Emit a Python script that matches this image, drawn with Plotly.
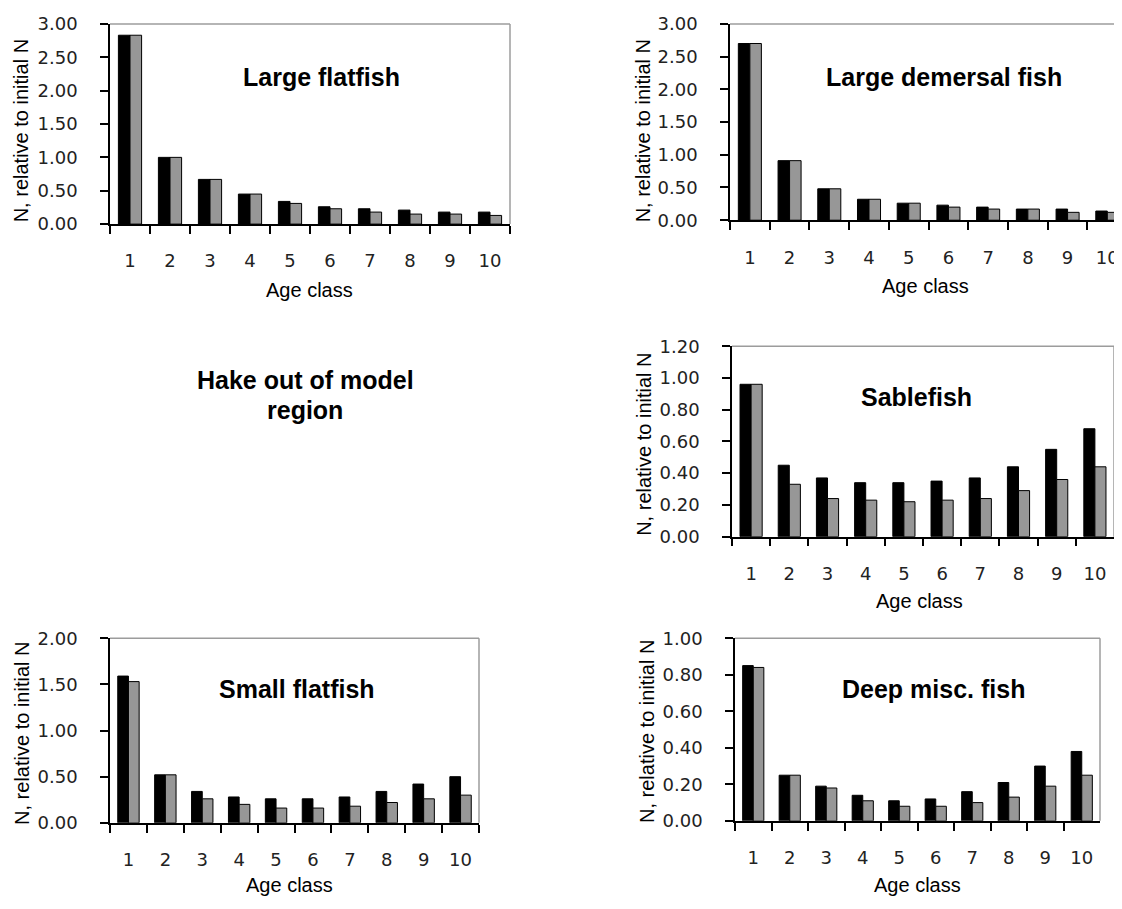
import plotly.graph_objects as go

# page is offset by the default 8px body margin, so the figure is 8px smaller
OFF = 8
PAGE_W, PAGE_H = 1122, 909
W, H = PAGE_W - OFF, PAGE_H - OFF

age_classes = ["1", "2", "3", "4", "5", "6", "7", "8", "9", "10"]

# Large flatfish
large_flatfish_black = [2.83, 1.00, 0.67, 0.45, 0.34, 0.26, 0.23, 0.21, 0.18, 0.18]
large_flatfish_grey = [2.83, 1.00, 0.67, 0.45, 0.31, 0.23, 0.18, 0.15, 0.15, 0.13]
# Large demersal fish
large_demersal_black = [2.70, 0.91, 0.48, 0.32, 0.26, 0.23, 0.20, 0.17, 0.17, 0.14]
large_demersal_grey = [2.70, 0.91, 0.48, 0.32, 0.26, 0.20, 0.17, 0.17, 0.12, 0.12]
# Sablefish
sablefish_black = [0.96, 0.45, 0.37, 0.34, 0.34, 0.35, 0.37, 0.44, 0.55, 0.68]
sablefish_grey = [0.96, 0.33, 0.24, 0.23, 0.22, 0.23, 0.24, 0.29, 0.36, 0.44]
# Small flatfish
small_flatfish_black = [1.59, 0.52, 0.34, 0.28, 0.26, 0.26, 0.28, 0.34, 0.42, 0.50]
small_flatfish_grey = [1.53, 0.52, 0.26, 0.20, 0.16, 0.16, 0.18, 0.22, 0.26, 0.30]
# Deep misc. fish
deep_misc_black = [0.85, 0.25, 0.19, 0.14, 0.11, 0.12, 0.16, 0.21, 0.30, 0.38]
deep_misc_grey = [0.84, 0.25, 0.18, 0.11, 0.08, 0.08, 0.10, 0.13, 0.19, 0.25]

panel_titles = ["Large flatfish", "Large demersal fish", "Sablefish",
                "Small flatfish", "Deep misc. fish"]
y_ranges = [3.0, 3.0, 1.2, 2.0, 1.0]
y_dticks = [0.5, 0.5, 0.2, 0.5, 0.2]
x_title = "Age class"
y_title = "N, relative to initial N"
hake_lines = ["Hake out of model", "region"]

series = [
    (large_flatfish_black, large_flatfish_grey),
    (large_demersal_black, large_demersal_grey),
    (sablefish_black, sablefish_grey),
    (small_flatfish_black, small_flatfish_grey),
    (deep_misc_black, deep_misc_grey),
]

# page-pixel boxes (left, right, top, bottom) of each plot area
boxes = [
    (110, 510, 13, 218),
    (730, 1122, 13, 214),
    (732, 1114, 343, 538),
    (110, 479, 642, 831),
    (735, 1100, 642, 829),
]
x_ranges = [[-0.5, 9.5], [-0.5, 9.37], [-0.5, 9.5], [-0.5, 9.5], [-0.5, 9.5]]
title_pos = [(321, 67), (944, 67), (916, 395), (297, 694), (933, 694)]
ytitle_pos = [(21, 123), (643, 122), (644, 444), (22, 740), (647, 738)]
xtitle_pos = [(309, 285), (925, 281), (919, 604), (290, 895), (917, 895)]
hake_pos = [(305, 378), (305, 408)]

BLACK = "#000000"
GREY = "#979797"
FRAME = "#9c9c9c"
TICK_FONT = dict(family="DejaVu Sans", size=18, color="#222222")
TITLE_FONT = dict(family="Liberation Sans, Arial", size=25, color="#000000")
AX_FONT = dict(family="Liberation Sans, Arial", size=20, color="#000000")

fig = go.Figure()
annotations = []
shapes = []


def px(x):
    return (x - OFF) / W


def py(y):
    return 1 - (y - OFF) / H


for i, ((blk, gry), box) in enumerate(zip(series, boxes)):
    n = "" if i == 0 else str(i + 1)
    xa, ya = "x" + n, "y" + n
    fig.add_trace(go.Bar(x=age_classes, y=blk, xaxis=xa, yaxis=ya,
                         marker=dict(color=BLACK, line=dict(color=BLACK, width=1)),
                         showlegend=False, hoverinfo="x+y"))
    fig.add_trace(go.Bar(x=age_classes, y=gry, xaxis=xa, yaxis=ya,
                         marker=dict(color=GREY, line=dict(color=BLACK, width=1)),
                         showlegend=False, hoverinfo="x+y"))
    l, r, t, b = box
    fig.layout["xaxis" + n] = dict(
        domain=[px(l), min(px(r), 1.0)], anchor=ya, type="category",
        range=x_ranges[i], showline=True, linecolor=BLACK, linewidth=1.5,
        ticks="outside", tickson="boundaries", ticklen=8, tickwidth=1.5,
        tickcolor=BLACK, tickfont=TICK_FONT, ticklabelstandoff=20,
        showgrid=False, zeroline=False, fixedrange=True)
    fig.layout["yaxis" + n] = dict(
        domain=[py(b), py(t)], anchor=xa, range=[0, y_ranges[i]],
        dtick=y_dticks[i], tick0=0, tickformat=".2f",
        showline=True, linecolor=BLACK, linewidth=1.5,
        ticks="outside", ticklen=8, tickwidth=1.5, tickcolor=BLACK,
        tickfont=TICK_FONT, ticklabelstandoff=19,
        showgrid=False, zeroline=False, fixedrange=True)
    # grey frame top / right
    shapes.append(dict(type="line", xref=xa + " domain", yref=ya + " domain",
                       x0=0, x1=1, y0=1, y1=1, line=dict(color=FRAME, width=1.5)))
    if r < PAGE_W:
        shapes.append(dict(type="line", xref=xa + " domain", yref=ya + " domain",
                           x0=1, x1=1, y0=0, y1=1, line=dict(color=FRAME, width=1.5)))
    tx, ty = title_pos[i]
    annotations.append(dict(text="<b>%s</b>" % panel_titles[i], x=px(tx), y=py(ty),
                            xref="paper", yref="paper", showarrow=False,
                            xanchor="center", yanchor="middle", font=TITLE_FONT))
    yx, yy = ytitle_pos[i]
    annotations.append(dict(text=y_title, x=px(yx), y=py(yy), xref="paper", yref="paper",
                            showarrow=False, textangle=-90, xanchor="center",
                            yanchor="middle", font=AX_FONT))
    ax_, ay_ = xtitle_pos[i]
    annotations.append(dict(text=x_title, x=px(ax_), y=py(ay_),
                            xref="paper", yref="paper", showarrow=False,
                            xanchor="center", yanchor="middle", font=AX_FONT))

for line, (hx, hy) in zip(hake_lines, hake_pos):
    annotations.append(dict(text="<b>%s</b>" % line, x=px(hx), y=py(hy),
                            xref="paper", yref="paper", showarrow=False,
                            xanchor="center", yanchor="middle", font=TITLE_FONT))

fig.update_layout(
    width=W, height=H, margin=dict(l=0, r=0, t=0, b=0),
    paper_bgcolor="white", plot_bgcolor="white",
    barmode="group", bargap=0.42, bargroupgap=0.0,
    annotations=annotations, shapes=shapes, showlegend=False,
)

fig.write_html("out.html")
